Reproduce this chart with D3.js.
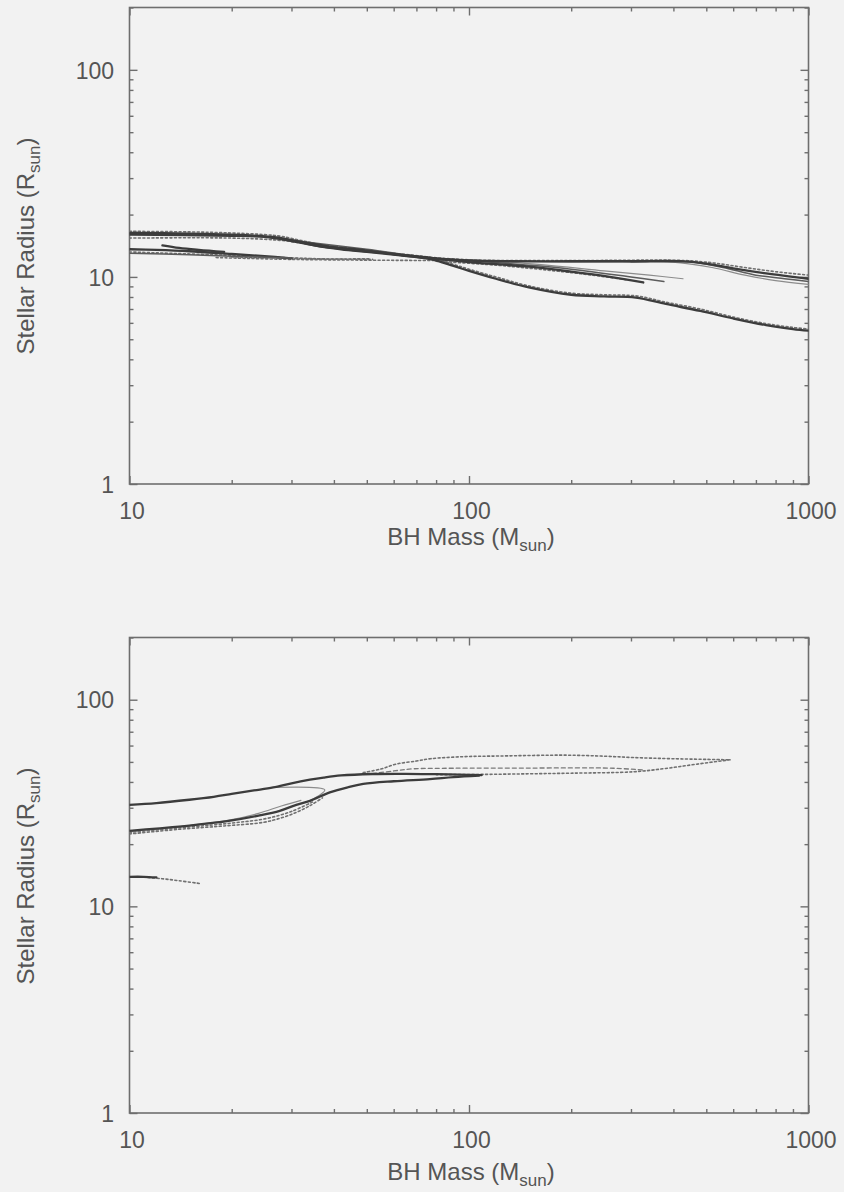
<!DOCTYPE html>
<html>
<head>
<meta charset="utf-8">
<script src="https://cdn.jsdelivr.net/npm/d3@7/dist/d3.min.js"></script>
<style>
  html, body { margin: 0; padding: 0; background: #f2f2f2; }
  svg { display: block; }
</style>
</head>
<body>
<svg id="chart" width="844" height="1192"></svg>
<script>
// ---------------- DATA (BH mass [Msun], stellar radius [Rsun]) ----------------
const xTickLabels = ["10", "100", "1000"];
const xMajorTicks = [10, 100, 1000];
const yTickLabels = ["1", "10", "100"];
const yMajorTicks = [1, 10, 100];
const xDomain = [10, 1000];
const yDomain = [1, 200];

// Upper panel
const topA      = [[10,16.3],[15,16.2],[20,16.0],[25,15.7],[28,15.4],[32,14.7],[36,14.1],[42,13.6],[50,13.2],[60,12.8],[77,12.2],[90,11.3],[100,10.7],[120,9.8],[150,8.9],[200,8.2],[250,8.05],[310,7.95],[380,7.4],[480,6.85],[600,6.3],[750,5.85],[900,5.6],[1000,5.5]];
const topAdot   = [[10,16.6],[15,16.5],[20,16.3],[25,16.0],[28,15.7],[32,15.0],[36,14.4],[42,13.9],[50,13.5],[60,13.0],[77,12.4],[90,11.5],[100,10.9],[120,10.0],[150,9.05],[200,8.35],[250,8.2],[310,8.1],[380,7.55],[480,7.0],[600,6.4],[750,5.95],[900,5.7],[1000,5.6]];
const topB      = [[10,16.0],[20,15.8],[25,15.6],[30,14.9],[35,14.2],[45,13.5],[60,12.9],[80,12.3],[100,12.0],[130,11.9],[200,11.9],[300,11.9],[430,11.9],[500,11.6],[600,11.0],[750,10.4],[1000,9.8]];
const topBlight = [[100,12.0],[200,11.8],[300,11.8],[420,11.7],[520,11.1],[650,10.2],[800,9.6],[1000,9.2]];
const topBmid   = [[300,11.85],[450,11.8],[560,11.1],[700,10.2],[850,9.8],[1000,9.5]];
const topBdot   = [[10,15.4],[20,15.4],[28,15.0],[35,14.3],[45,13.6],[60,12.9],[100,12.1],[200,12.0],[430,12.0],[520,11.7],[650,11.1],[800,10.6],[1000,10.2]];
const topC1     = [[30,15.0],[38,14.1],[50,13.4],[70,12.5],[100,11.8],[150,11.2],[200,10.6],[260,10.0],[326,9.4]];
const topC2     = [[28,15.3],[36,14.5],[50,13.6],[80,12.3],[100,12.0],[150,11.4],[200,10.9],[300,10.0],[375,9.5]];
const topC3     = [[100,12.1],[160,11.5],[250,10.7],[340,10.2],[427,9.8]];
const topC4     = [[80,11.9],[120,11.4],[160,10.9],[220,10.3],[290,9.7]];
const topD1     = [[10,13.6],[12,13.5],[15,13.3],[20,12.9],[25,12.6],[30,12.3]];
const topD2     = [[10,13.0],[15,12.8],[20,12.6],[30,12.35]];
const topE      = [[12.5,14.2],[14,13.8],[16,13.5],[19,13.2]];
const topDdot1  = [[18,12.4],[30,12.15],[50,12.05],[80,12.0],[108,12.0]];
const topDdot2  = [[10,13.2],[20,12.7],[35,12.25],[52,12.15]];
const topDdot3  = [[20,12.5],[30,12.3],[40,12.2],[51,12.25]];

// Lower panel
const botU1     = [[10,31.0],[12,31.6],[15,32.8],[17.7,33.9],[20,35.0],[23,36.3],[26.5,37.6],[30,39.4],[34,41.0],[37.3,42.0],[42,43.0],[52,43.7],[65,43.8],[80,43.6],[100,43.3],[109,43.2]];
const botL1     = [[10,23.2],[12,23.8],[15,24.6],[19.8,26.0],[24,27.5],[27.7,29.0],[31,31.0],[34,32.4],[38.9,35.6],[44,37.7],[48.8,39.1],[60,40.3],[76.7,41.3],[90,42.2],[107,42.9]];
const botL2     = [[10,23.0],[15,24.6],[20,26.3],[24,28.2],[28,30.6],[32,32.6]];
const botLink   = [[26.5,37.6],[37.6,36.6],[34,32.4]];
const botLdot1  = [[10,22.4],[14,23.6],[19,24.5],[24.8,25.5],[28,26.8],[31,28.5],[34,30.7],[37,33.5]];
const botLdot2  = [[10,22.8],[15,24.2],[20,25.3],[25,26.5],[30,28.8],[35,32.3]];
const botS      = [[10,13.9],[11,13.9],[12,13.8]];
const botSdot   = [[11,13.85],[12.5,13.6],[14,13.3],[16.1,12.9]];
const botTopDot = [[48.8,44.4],[55,46.2],[61,48.8],[70,50.5],[77,51.8],[96,53.0],[123,53.4],[194,53.9],[250,53.3],[305,52.5],[400,51.8],[588,51.2]];
const botMidDash= [[52,43.9],[60,45.2],[68.6,46.3],[90,46.6],[150,46.7],[266,46.6],[330,45.6]];
const botLowDot = [[80,43.4],[109,43.5],[150,43.8],[200,44.1],[305,44.8],[380,46.5],[470,48.8],[588,51.2]];

// ---------------- STYLES ----------------
const styles = {
  dark:   {stroke: "#3c3c3c", width: 2.3, dash: null},
  mid:    {stroke: "#5c5c5c", width: 1.5, dash: null},
  light:  {stroke: "#8c8c8c", width: 1.2, dash: null},
  dot:    {stroke: "#707070", width: 1.6, dash: "2,2.5"},
  dash:   {stroke: "#7a7a7a", width: 1.3, dash: "4,3"}
};

const topSeries = [
  [topBdot, "dot"], [topAdot, "dot"], [topDdot1, "dot"], [topDdot2, "dot"], [topDdot3, "dot"], [topC4, "dot"],
  [topBlight, "light"], [topC3, "light"], [topBmid, "mid"], [topC2, "mid"],
  [topA, "dark"], [topB, "dark"], [topC1, "dark"], [topD1, "dark"], [topD2, "mid"], [topE, "dark"]
];
const botSeries = [
  [botTopDot, "dot"], [botMidDash, "dash"], [botLowDot, "dot"], [botLdot1, "dot"], [botLdot2, "dot"], [botSdot, "dot"],
  [botL2, "light"], [botLink, "light"],
  [botU1, "dark"], [botL1, "dark"], [botS, "dark"]
];

// ---------------- LAYOUT ----------------
const svg = d3.select("#chart");
const left = 129.5, right = 808.5;
const panels = [
  {top: 7.5, bottom: 484, series: topSeries, labelY: 519, titleY: 545, ytitleY: 246},
  {top: 637.5, bottom: 1113, series: botSeries, labelY: 1148, titleY: 1180, ytitleY: 876}
];
const axisColor = "#6e6e6e";
const textColor = "#555";
const font = "'Liberation Sans', Arial, Helvetica, sans-serif";

function minorTicks(dom) {
  const out = [];
  for (let p = Math.floor(Math.log10(dom[0])); p <= Math.ceil(Math.log10(dom[1])); p++) {
    for (let k = 1; k <= 9; k++) {
      const v = k * Math.pow(10, p);
      if (v >= dom[0] - 1e-9 && v <= dom[1] + 1e-9) out.push(v);
    }
  }
  return out;
}
const isMajor = v => Math.abs(Math.log10(v) - Math.round(Math.log10(v))) < 1e-9;

panels.forEach(P => {
  const x = d3.scaleLog().domain(xDomain).range([left, right]);
  const y = d3.scaleLog().domain(yDomain).range([P.bottom, P.top]);
  const g = svg.append("g");

  const xt = minorTicks(xDomain), yt = minorTicks(yDomain);
  const xFmt = d => { const i = xMajorTicks.indexOf(d); return i >= 0 ? xTickLabels[i] : ""; };
  const yFmt = d => { const i = yMajorTicks.indexOf(d); return i >= 0 ? yTickLabels[i] : ""; };

  const styleAxis = (sel, vertical, sign) => {
    sel.select(".domain").remove();
    sel.selectAll(".tick line")
      .attr("stroke", axisColor).attr("stroke-width", 1.4)
      .each(function(d) {
        const len = (isMajor(d) ? 8 : 4) * sign;
        if (vertical) d3.select(this).attr("x2", len); else d3.select(this).attr("y2", len);
      });
  };

  // bottom axis
  const gb = g.append("g").attr("transform", `translate(0,${P.bottom})`)
    .call(d3.axisBottom(x).tickValues(xt).tickFormat(xFmt).tickSizeOuter(0));
  styleAxis(gb, false, -1);
  gb.selectAll(".tick text")
    .attr("y", P.labelY - P.bottom).attr("dy", 0).attr("dx", 2)
    .attr("fill", textColor).style("font-family", font).style("font-size", "23px");

  // top axis (mirror)
  const gt = g.append("g").attr("transform", `translate(0,${P.top})`)
    .call(d3.axisTop(x).tickValues(xt).tickFormat("").tickSizeOuter(0));
  styleAxis(gt, false, 1);

  // left axis
  const gl = g.append("g").attr("transform", `translate(${left},0)`)
    .call(d3.axisLeft(y).tickValues(yt).tickFormat(yFmt).tickSizeOuter(0));
  styleAxis(gl, true, 1);
  gl.selectAll(".tick text")
    .attr("x", 114 - left).attr("dy", "0.36em")
    .attr("fill", textColor).style("font-family", font).style("font-size", "23px");

  // right axis (mirror)
  const gr = g.append("g").attr("transform", `translate(${right},0)`)
    .call(d3.axisRight(y).tickValues(yt).tickFormat("").tickSizeOuter(0));
  styleAxis(gr, true, -1);

  // frame
  g.append("rect")
    .attr("x", left).attr("y", P.top)
    .attr("width", right - left).attr("height", P.bottom - P.top)
    .attr("fill", "none").attr("stroke", axisColor).attr("stroke-width", 1.6);

  // curves
  const clipId = "clip" + Math.round(P.top);
  g.append("clipPath").attr("id", clipId).append("rect")
    .attr("x", left).attr("y", P.top).attr("width", right - left).attr("height", P.bottom - P.top);
  const line = d3.line().x(d => x(d[0])).y(d => y(d[1])).curve(d3.curveCatmullRom.alpha(0.5));
  const cg = g.append("g").attr("clip-path", `url(#${clipId})`);
  P.series.forEach(([data, st]) => {
    const s = styles[st];
    cg.append("path").datum(data)
      .attr("d", line)
      .attr("fill", "none")
      .attr("stroke", s.stroke)
      .attr("stroke-width", s.width)
      .attr("stroke-linecap", "round")
      .attr("stroke-linejoin", "round")
      .attr("stroke-dasharray", s.dash);
  });

  // x title
  const xtText = g.append("text")
    .attr("x", (left + right) / 2 + 2).attr("y", P.titleY)
    .attr("text-anchor", "middle")
    .attr("fill", textColor).style("font-family", font).style("font-size", "24px");
  xtText.append("tspan").text("BH Mass (M");
  xtText.append("tspan").attr("dy", 6).style("font-size", "17px").text("sun");
  xtText.append("tspan").attr("dy", -6).text(")");

  // y title
  const ytText = g.append("text")
    .attr("transform", `translate(34,${P.ytitleY}) rotate(-90)`)
    .attr("text-anchor", "middle")
    .attr("fill", textColor).style("font-family", font).style("font-size", "24px");
  ytText.append("tspan").text("Stellar Radius (R");
  ytText.append("tspan").attr("dy", 6).style("font-size", "17px").text("sun");
  ytText.append("tspan").attr("dy", -6).text(")");
});
</script>
</body>
</html>
